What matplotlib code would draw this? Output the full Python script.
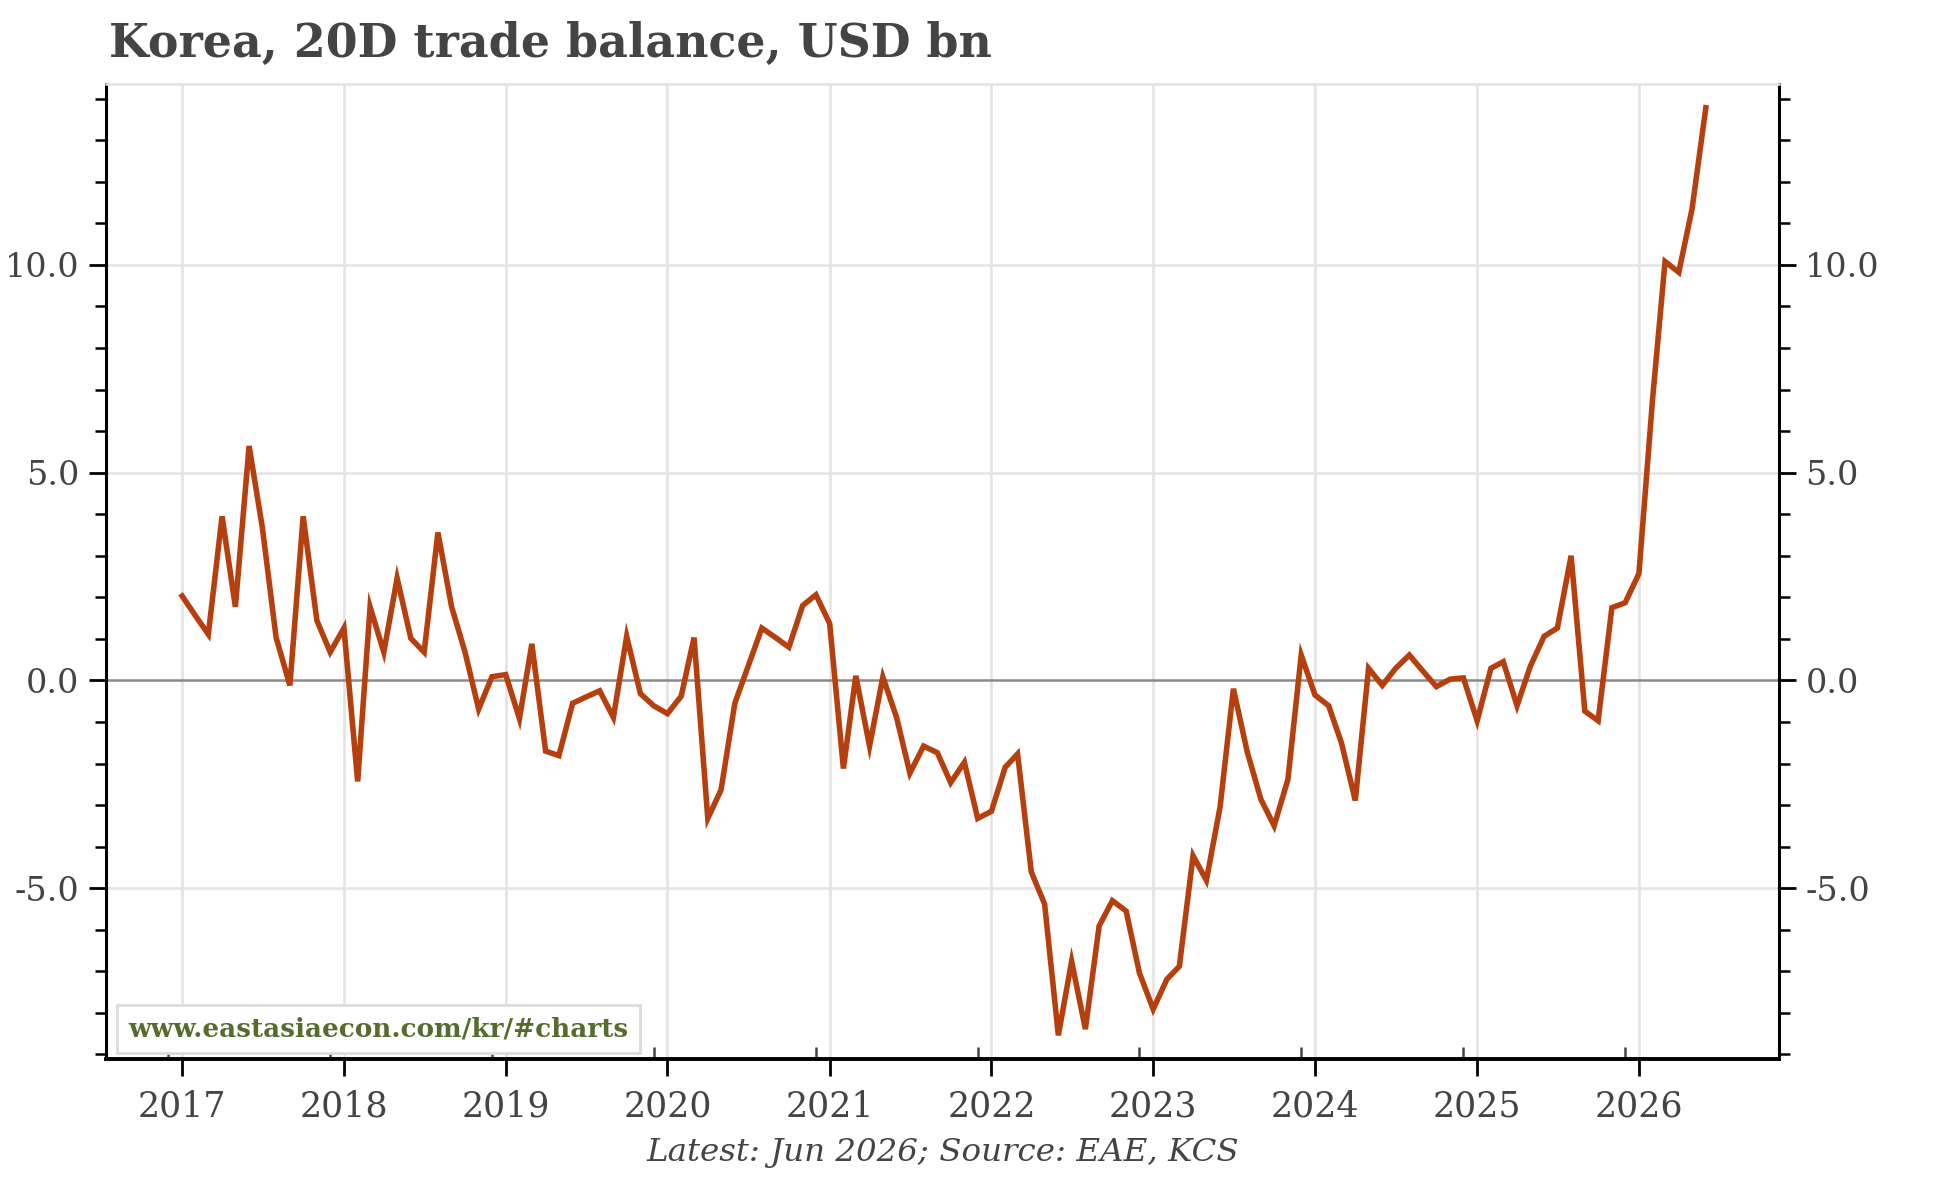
import matplotlib
matplotlib.use("Agg")
import matplotlib.pyplot as plt
import matplotlib.dates as mdates
from matplotlib.ticker import MultipleLocator, FormatStrFormatter
import pandas as pd

# monthly 20-day trade balance, USD bn, Jan 2017 .. Jun 2026
start_month = "2017-01-01"
balance = [
    2.03, 1.54, 1.11, 3.95, 1.77, 5.64, 3.67, 1.03, -0.12, 3.95, 1.44, 0.68,   # 2017
    1.26, -2.43, 1.77, 0.68, 2.46, 1.01, 0.68, 3.56, 1.77, 0.69, -0.69, 0.09,  # 2018
    0.14, -0.92, 0.88, -1.70, -1.81, -0.55, -0.40, -0.25, -0.89, 1.06, -0.32, -0.61,  # 2019
    -0.80, -0.38, 1.03, -3.32, -2.63, -0.55, 0.34, 1.26, 1.03, 0.80, 1.80, 2.06,  # 2020
    1.37, -2.12, 0.11, -1.58, 0.08, -0.89, -2.23, -1.58, -1.74, -2.46, -1.97, -3.32,  # 2021
    -3.15, -2.09, -1.77, -4.61, -5.38, -8.54, -6.76, -8.39, -5.91, -5.30, -5.55, -7.04,  # 2022
    -7.91, -7.19, -6.88, -4.22, -4.81, -3.04, -0.20, -1.71, -2.86, -3.50, -2.38, 0.61,  # 2023
    -0.35, -0.61, -1.51, -2.89, 0.29, -0.12, 0.29, 0.61, 0.22, -0.15, 0.03, 0.06,  # 2024
    -0.97, 0.29, 0.45, -0.61, 0.34, 1.06, 1.26, 3.00, -0.74, -0.97, 1.75, 1.87,  # 2025
    2.57, 6.79, 10.08, 9.82, 11.35, 13.78,  # 2026
]
years = list(range(2017, 2027))
y_major = [-5.0, 0.0, 5.0, 10.0]

TITLE = "Korea, 20D trade balance, USD bn"
CAPTION = "Latest: Jun 2026; Source: EAE, KCS"
WATERMARK = "www.eastasiaecon.com/kr/#charts"

LINE_COLOR = "#b5400e"
TEXT_COLOR = "#444444"
GRID_COLOR = "#e3e3e3"
SERIF = ["DejaVu Serif"]


def draw():
    dates = pd.date_range(start_month, periods=len(balance), freq="MS")

    fig = plt.figure(figsize=(9.72, 5.89), dpi=200)
    ax = fig.add_axes([0.0545, 0.101, 0.8606, 0.828])

    # grid + zero line
    for yr in years:
        ax.axvline(pd.Timestamp(f"{yr}-01-01"), color=GRID_COLOR, lw=0.9, zorder=0)
    for v in y_major:
        if v != 0:
            ax.axhline(v, color=GRID_COLOR, lw=0.9, zorder=0)
    ax.axhline(0, color="#8a8a8a", lw=0.9, zorder=1)

    ax.plot(dates, balance, color=LINE_COLOR, lw=2.0, solid_joinstyle="miter", zorder=3)

    ax.set_xlim(pd.Timestamp("2016-07-13"), pd.Timestamp("2026-11-13"))
    ax.set_ylim(-9.11, 14.36)

    # x axis: years, with small inward ticks one month earlier
    ax.xaxis.set_major_locator(mdates.YearLocator())
    ax.xaxis.set_major_formatter(mdates.DateFormatter("%Y"))
    ax.set_xticks([pd.Timestamp(f"{yr - 1}-12-01") for yr in years], minor=True)
    ax.tick_params(axis="x", which="major", direction="out", length=6, width=1.0,
                   colors="black", labelcolor=TEXT_COLOR, labelsize=12.5, pad=5)
    ax.tick_params(axis="x", which="minor", direction="in", length=4.5, width=0.9, colors="#444444")

    # y axis: labels on both sides
    ax.yaxis.set_major_locator(MultipleLocator(5))
    ax.yaxis.set_minor_locator(MultipleLocator(1))
    ax.yaxis.set_major_formatter(FormatStrFormatter("%.1f"))
    ax.yaxis.set_ticks_position("both")
    ax.tick_params(axis="y", which="both", direction="out", labelleft=True, labelright=True,
                   colors="black", labelcolor=TEXT_COLOR, labelsize=12)
    ax.tick_params(axis="y", which="major", length=6, width=1.0, pad=3.5)
    ax.tick_params(axis="y", which="minor", length=4, width=0.9)

    for lab in ax.get_xticklabels() + ax.get_yticklabels():
        lab.set_family(SERIF)

    for side in ["left", "right"]:
        ax.spines[side].set_linewidth(1.1)
        ax.spines[side].set_color("black")
    ax.spines["bottom"].set_linewidth(1.4)
    ax.spines["top"].set_color(GRID_COLOR)
    ax.spines["top"].set_linewidth(0.9)

    # watermark box
    ax.text(0.0135, 0.018, WATERMARK, transform=ax.transAxes, family=SERIF,
            fontsize=9.45, fontweight="bold", color="#566b2e", ha="left", va="bottom",
            bbox=dict(boxstyle="square,pad=0.45", facecolor="white", edgecolor="#dcdcdc", lw=1.0),
            zorder=5)

    fig.text(0.056, 1 - 44 / 1178, TITLE, family=SERIF, fontsize=16.5, fontweight="bold",
             color=TEXT_COLOR, ha="left", va="center")
    fig.text(0.485, 1 - 1152 / 1178, CAPTION, family=SERIF, fontsize=11.7, style="italic",
             color=TEXT_COLOR, ha="center", va="center")

    fig.savefig("out.png", dpi=200)


if __name__ == "__main__":
    draw()
